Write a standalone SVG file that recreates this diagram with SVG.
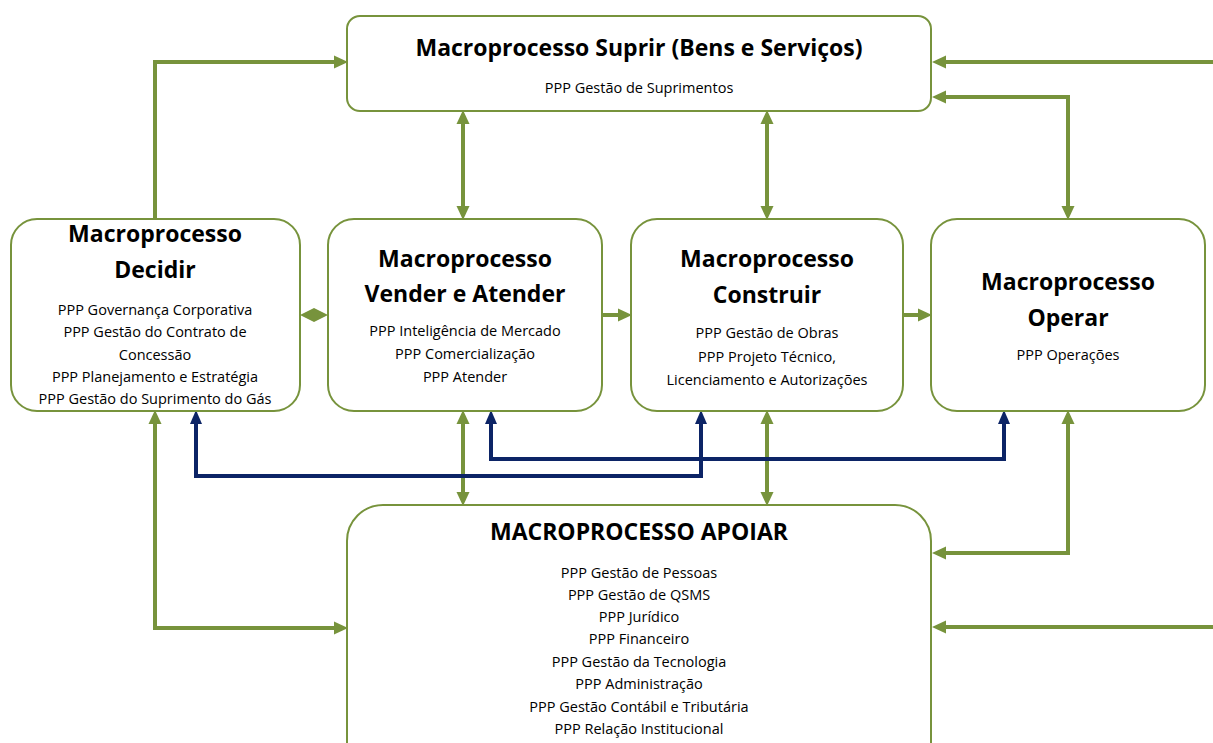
<svg xmlns="http://www.w3.org/2000/svg" width="1213" height="743" viewBox="0 0 1213 743">
<style>
.box{fill:#fff;stroke:#77933C;stroke-width:2}
.t{font-family:"Open Sans","Liberation Sans",sans-serif;font-weight:bold;font-size:23px;fill:#000;text-anchor:middle}
.s{font-family:"Open Sans","Liberation Sans",sans-serif;font-size:14.5px;fill:#000;text-anchor:middle}
.g{fill:none;stroke:#77933C;stroke-width:4}
.b{fill:none;stroke:#0C2466;stroke-width:4}
</style>
<defs>
<marker id="ag" markerUnits="userSpaceOnUse" markerWidth="15" markerHeight="15" viewBox="0 0 15 15" refX="5" refY="7.5" orient="auto-start-reverse"><path d="M0,1 L14,7.5 L0,14 z" fill="#77933C"/></marker>
<marker id="ab" markerUnits="userSpaceOnUse" markerWidth="15" markerHeight="15" viewBox="0 0 15 15" refX="5" refY="7.5" orient="auto-start-reverse"><path d="M0,1.5 L14,7.5 L0,13.5 z" fill="#0C2466"/></marker>
</defs>
<rect width="1213" height="743" fill="#fff"/>
<g id="connectors">
<path class="g" d="M155,219 V62 H339" marker-end="url(#ag)"/>
<path class="g" d="M1213,62 H941" marker-end="url(#ag)"/>
<path class="g" d="M1068,211 V97 H941" marker-start="url(#ag)" marker-end="url(#ag)"/>
<path class="g" d="M463,119 V211" marker-start="url(#ag)" marker-end="url(#ag)"/>
<path class="g" d="M767,119 V211" marker-start="url(#ag)" marker-end="url(#ag)"/>
<polygon points="300,315 314,308 328,315 314,322" fill="#77933C"/>
<path class="g" d="M602,315 H623" marker-end="url(#ag)"/>
<path class="g" d="M903,315 H923" marker-end="url(#ag)"/>
<path class="g" d="M463,419 V497" marker-start="url(#ag)" marker-end="url(#ag)"/>
<path class="g" d="M767,419 V497" marker-start="url(#ag)" marker-end="url(#ag)"/>
<path class="g" d="M155,419 V628 H339" marker-start="url(#ag)" marker-end="url(#ag)"/>
<path class="g" d="M1068,419 V553 H941" marker-start="url(#ag)" marker-end="url(#ag)"/>
<path class="g" d="M1213,627 H941" marker-end="url(#ag)"/>
<path class="b" d="M196,419 V476 H701 V419" marker-start="url(#ab)" marker-end="url(#ab)"/>
<path class="b" d="M491,419 V459 H1004 V419" marker-start="url(#ab)" marker-end="url(#ab)"/>
</g>
<g id="suprir">
<rect class="box" x="347" y="16" width="584" height="95" rx="13"/>
<text class="t" x="639" y="56">Macroprocesso Suprir (Bens e Serviços)</text>
<text class="s" x="639" y="93">PPP Gestão de Suprimentos</text>
</g>
<g id="decidir">
<rect class="box" x="11" y="219" width="289" height="192" rx="26"/>
<text class="t" x="155" y="242">Macroprocesso</text>
<text class="t" x="155" y="278">Decidir</text>
<text class="s" x="155" y="315">PPP Governança Corporativa</text>
<text class="s" x="155" y="337">PPP Gestão do Contrato de</text>
<text class="s" x="155" y="360">Concessão</text>
<text class="s" x="155" y="382">PPP Planejamento e Estratégia</text>
<text class="s" x="155" y="404">PPP Gestão do Suprimento do Gás</text>
</g>
<g id="vender">
<rect class="box" x="328" y="219" width="274" height="192" rx="26"/>
<text class="t" x="465" y="267">Macroprocesso</text>
<text class="t" x="465" y="302">Vender e Atender</text>
<text class="s" x="465" y="336">PPP Inteligência de Mercado</text>
<text class="s" x="465" y="359">PPP Comercialização</text>
<text class="s" x="465" y="382">PPP Atender</text>
</g>
<g id="construir">
<rect class="box" x="631" y="219" width="272" height="192" rx="26"/>
<text class="t" x="767" y="267">Macroprocesso</text>
<text class="t" x="767" y="303">Construir</text>
<text class="s" x="767" y="338">PPP Gestão de Obras</text>
<text class="s" x="767" y="362">PPP Projeto Técnico,</text>
<text class="s" x="767" y="385">Licenciamento e Autorizações</text>
</g>
<g id="operar">
<rect class="box" x="931" y="219" width="274" height="192" rx="26"/>
<text class="t" x="1068" y="290">Macroprocesso</text>
<text class="t" x="1068" y="326">Operar</text>
<text class="s" x="1068" y="360">PPP Operações</text>
</g>
<g id="apoiar">
<rect class="box" x="347" y="505" width="584" height="290" rx="36"/>
<text class="t" x="639" y="540">MACROPROCESSO APOIAR</text>
<text class="s" x="639" y="578">PPP Gestão de Pessoas</text>
<text class="s" x="639" y="600">PPP Gestão de QSMS</text>
<text class="s" x="639" y="622">PPP Jurídico</text>
<text class="s" x="639" y="644">PPP Financeiro</text>
<text class="s" x="639" y="667">PPP Gestão da Tecnologia</text>
<text class="s" x="639" y="689">PPP Administração</text>
<text class="s" x="639" y="712">PPP Gestão Contábil e Tributária</text>
<text class="s" x="639" y="734">PPP Relação Institucional</text>
</g>
</svg>
